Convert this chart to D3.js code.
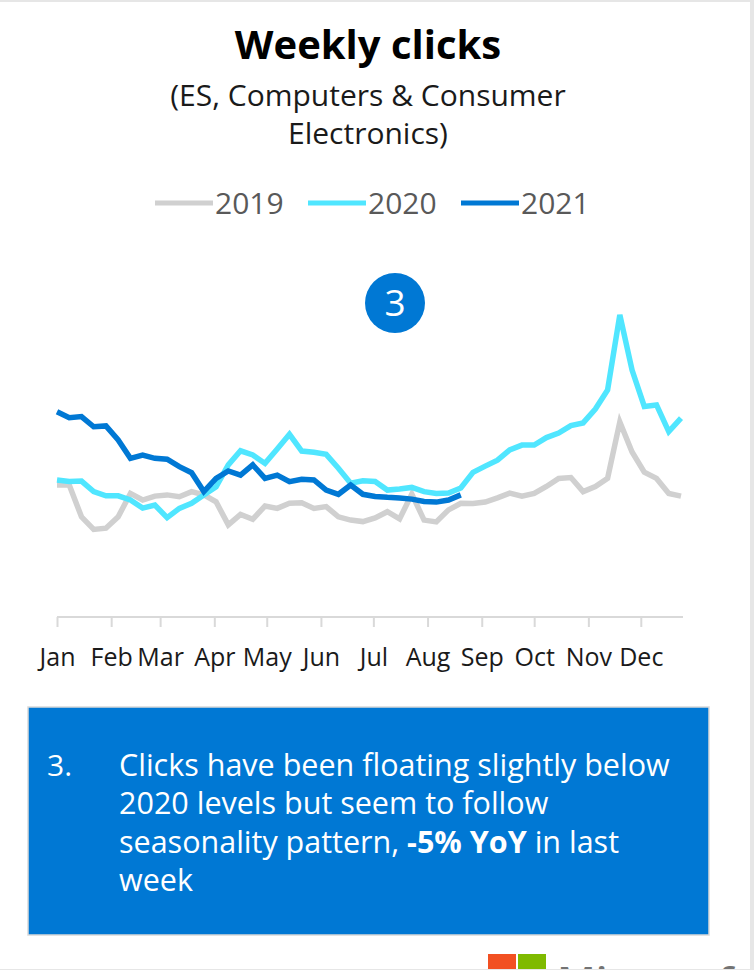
<!DOCTYPE html>
<html>
<head>
<meta charset="utf-8">
<script src="https://cdn.jsdelivr.net/npm/d3@7"></script>
<style>
  html, body { margin: 0; padding: 0; background: #fff; }
  svg { display: block; }
  text { font-family: "Open Sans", "Noto Sans", sans-serif; }
</style>
</head>
<body>
<svg id="chart" width="754" height="970"></svg>
<script>
// Weekly click index (2020 peak week ≈ 100), one value per week
const seriesNames = ["2019", "2020", "2021"];
const seriesColors = ["#d0d0d0", "#50e6ff", "#0078d4"];

const clicks2019 = [44.0, 44.0, 33.4, 29.2, 29.6, 33.4, 41.2, 39.0, 40.3, 40.7,
  40.1, 41.8, 40.7, 38.4, 30.7, 34.2, 32.6, 37.0, 36.2, 37.9,
  38.1, 36.2, 36.8, 33.4, 32.3, 31.8, 33.0, 35.1, 32.7, 41.0,
  32.3, 31.7, 35.7, 37.9, 37.8, 38.3, 39.7, 41.3, 40.3, 41.2,
  43.5, 46.2, 46.5, 41.8, 43.5, 46.2, 65.0, 55.0, 48.3, 46.2,
  41.2, 40.3];

const clicks2020 = [45.7, 45.2, 45.3, 41.8, 40.4, 40.4, 39.0, 36.3, 37.3, 33.1,
  36.2, 37.9, 40.7, 43.4, 50.7, 55.4, 54.0, 51.2, 56.0, 60.9,
  55.3, 54.9, 54.2, 49.6, 44.6, 45.4, 45.2, 42.3, 42.7, 43.2,
  41.8, 41.2, 41.3, 43.0, 48.2, 50.3, 52.3, 55.7, 57.3, 57.3,
  59.8, 61.3, 63.8, 64.7, 69.3, 75.7, 100.7, 82.3, 70.2, 70.7,
  61.8, 66.3];

const clicks2021 = [68.4, 66.4, 66.8, 63.4, 63.7, 59.0, 52.9, 54.0, 52.9, 52.6,
  50.1, 48.1, 41.8, 46.2, 48.7, 47.3, 50.7, 46.2, 47.3, 45.1,
  45.9, 45.7, 42.3, 40.9, 44.0, 40.9, 40.2, 39.9, 39.7, 39.3,
  38.5, 38.3, 39.0, 40.7];

const monthLabels = ["Jan", "Feb", "Mar", "Apr", "May", "Jun",
  "Jul", "Aug", "Sep", "Oct", "Nov", "Dec"];

const titleText = "Weekly clicks";
const subtitleLines = ["(ES, Computers & Consumer", "Electronics)"];
const calloutNumber = "3";
const noteLines = [
  [{ t: "Clicks have been floating slightly below" }],
  [{ t: "2020 levels but seem to follow" }],
  [{ t: "seasonality pattern, " }, { t: "-5% YoY", b: true }, { t: " in last" }],
  [{ t: "week" }]
];

// ---- scales -------------------------------------------------------------
const yearStart = new Date(2019, 0, 1);
const weekDates = d3.range(52).map(i => d3.timeDay.offset(yearStart, 7 * i));
const monthStarts = d3.range(12).map(m => new Date(2019, m, 1));

const x = d3.scaleTime()
  .domain([yearStart, weekDates[51]])
  .range([57, 681]);
const y = d3.scaleLinear().domain([0, 120]).range([617, 257]);

const svg = d3.select("#chart");

// page frame
svg.append("rect").attr("x", 0).attr("y", 0).attr("width", 754).attr("height", 2).attr("fill", "#e6e6e6");
svg.append("rect").attr("x", 750).attr("y", 0).attr("width", 4).attr("height", 970).attr("fill", "#e6e6e6");

// ---- titles -------------------------------------------------------------
svg.append("text")
  .attr("x", 368).attr("y", 59)
  .attr("text-anchor", "middle")
  .attr("font-size", 40).attr("font-weight", 700).attr("fill", "#000")
  .text(titleText);

svg.selectAll("text.sub").data(subtitleLines).join("text")
  .attr("class", "sub")
  .attr("x", 368).attr("y", (d, i) => 106 + i * 38)
  .attr("text-anchor", "middle")
  .attr("font-size", 30).attr("fill", "#1a1a1a")
  .text(d => d);

// ---- legend -------------------------------------------------------------
const legend = svg.append("g");
const legendItems = legend.selectAll("g").data(seriesNames).join("g")
  .attr("transform", (d, i) => `translate(${155 + i * 153},203)`);
legendItems.append("line")
  .attr("x1", 0).attr("x2", 58).attr("y1", 0).attr("y2", 0)
  .attr("stroke", (d, i) => seriesColors[i]).attr("stroke-width", 5);
legendItems.append("text")
  .attr("x", 60).attr("y", 11)
  .attr("font-size", 30).attr("fill", "#595959")
  .text(d => d);

// ---- axis ---------------------------------------------------------------
const axis = d3.axisBottom(x)
  .tickValues(monthStarts)
  .tickFormat((d, i) => monthLabels[i])
  .tickSize(10).tickSizeOuter(0).tickPadding(21);

const axisG = svg.append("g")
  .attr("transform", `translate(0,${y(0)})`)
  .call(axis);
axisG.select(".domain").attr("stroke", "#d9d9d9").attr("stroke-width", 2)
  .attr("d", `M${x.range()[0]},0H${x.range()[1] + 2}`);
axisG.selectAll(".tick line").attr("stroke", "#d9d9d9").attr("stroke-width", 2);
axisG.selectAll(".tick text")
  .attr("font-family", "'Open Sans', 'Noto Sans', sans-serif")
  .attr("font-size", 25).attr("fill", "#1a1a1a");

// ---- lines --------------------------------------------------------------
const line = d3.line()
  .x((d, i) => x(weekDates[i]))
  .y(d => y(d));

const allSeries = [clicks2019, clicks2020, clicks2021];
svg.append("g").selectAll("path").data(allSeries).join("path")
  .attr("d", d => line(d))
  .attr("fill", "none")
  .attr("stroke", (d, i) => seriesColors[i])
  .attr("stroke-width", 5.5)
  .attr("stroke-linejoin", "miter")
  .attr("stroke-linecap", "butt");

// ---- numbered callout ---------------------------------------------------
svg.append("circle").attr("cx", 395).attr("cy", 303).attr("r", 30).attr("fill", "#0078d4");
svg.append("text")
  .attr("x", 395).attr("y", 316)
  .attr("text-anchor", "middle")
  .attr("font-size", 37).attr("fill", "#fff")
  .text(calloutNumber);

// ---- note box -----------------------------------------------------------
svg.append("rect")
  .attr("x", 28).attr("y", 707).attr("width", 681).attr("height", 228)
  .attr("fill", "#0078d4").attr("stroke", "#d9d9d9").attr("stroke-width", 1.5);

svg.append("text")
  .attr("x", 47).attr("y", 776)
  .attr("font-size", 30).attr("fill", "#fff")
  .text(calloutNumber + ".");

const note = svg.append("text")
  .attr("font-size", 30.5).attr("fill", "#fff");
noteLines.forEach((parts, i) => {
  parts.forEach((p, j) => {
    const ts = note.append("tspan").text(p.t).attr("font-weight", p.b ? 700 : 400);
    if (j === 0) ts.attr("x", 119).attr("y", 776 + i * 38.3);
  });
});

// ---- footer logo (runs past the page edge) ------------------------------
const clip = svg.append("clipPath").attr("id", "foot");
clip.append("rect").attr("x", 0).attr("y", 0).attr("width", 754).attr("height", 969);
const foot = svg.append("g").attr("clip-path", "url(#foot)");
foot.append("rect").attr("x", 488).attr("y", 954).attr("width", 28).attr("height", 28).attr("fill", "#f25022");
foot.append("rect").attr("x", 518).attr("y", 954).attr("width", 28).attr("height", 28).attr("fill", "#7fba00");
foot.append("text").attr("x", 557).attr("y", 997)
  .attr("font-size", 42).attr("font-weight", 600).attr("fill", "#737373")
  .text("Microsoft");
svg.append("rect").attr("x", 0).attr("y", 969).attr("width", 754).attr("height", 1).attr("fill", "#e6e6e6");
</script>
</body>
</html>
